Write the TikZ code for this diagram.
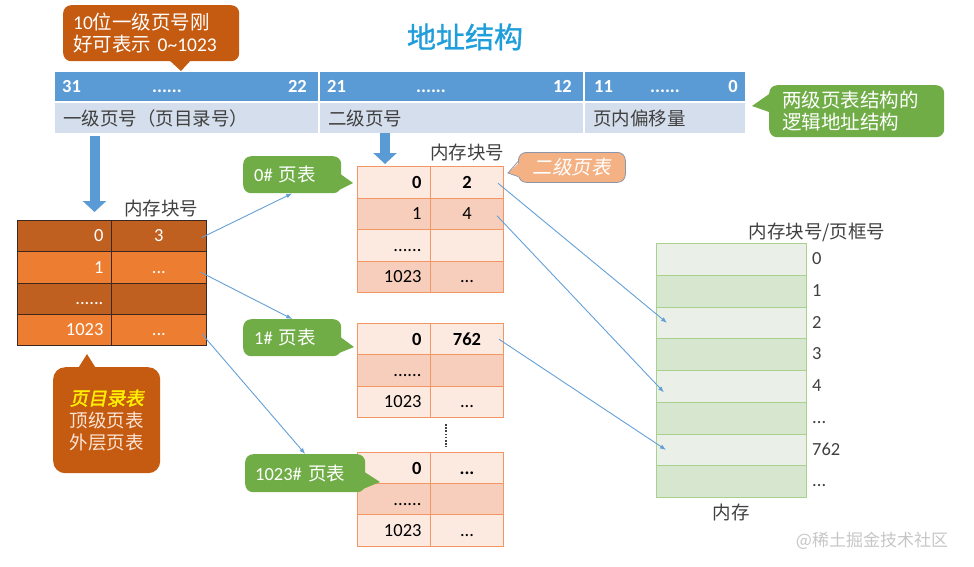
\documentclass[tikz,border=0pt]{standalone}
\usepackage{fontspec}
\setmainfont{Carlito}
\newfontfamily\cjk{Noto Sans CJK SC}
\newfontfamily\cjkb{Noto Sans CJK SC}[FakeBold=1.2]
\newfontfamily\cjkit{Noto Sans CJK SC}[FakeSlant=0.2]
\newfontfamily\cjkbi{Noto Sans CJK SC}[FakeSlant=0.2,FakeBold=2]
\usetikzlibrary{arrows.meta}
\definecolor{titleblue}{RGB}{32,158,220}
\definecolor{barblue}{RGB}{91,155,213}
\definecolor{barlight}{RGB}{213,222,236}
\definecolor{cbrown}{RGB}{197,90,17}
\definecolor{ltdark}{RGB}{192,96,32}
\definecolor{ltlight}{RGB}{237,125,49}
\definecolor{ltline}{RGB}{60,40,30}
\definecolor{cgreen}{RGB}{112,173,71}
\definecolor{pklight}{RGB}{252,233,224}
\definecolor{pkdark}{RGB}{246,206,187}
\definecolor{pkborder}{RGB}{242,150,100}
\definecolor{salmon}{RGB}{244,177,131}
\definecolor{salmonline}{RGB}{140,150,170}
\definecolor{mlight}{RGB}{234,240,231}
\definecolor{mdark}{RGB}{214,230,207}
\definecolor{mborder}{RGB}{169,209,142}
\definecolor{linkblue}{RGB}{100,160,215}
\definecolor{txtgray}{RGB}{64,64,64}
\definecolor{cream}{RGB}{251,229,214}
\definecolor{ylw}{RGB}{255,240,0}
\begin{document}
\begin{tikzpicture}[x=1pt,y=-1pt,
  fa/.style={font=\fontsize{18.5}{22}\selectfont},
  fb/.style={font=\fontsize{19.5}{22.5}\selectfont},
  lcella/.style={draw=ltline, line width=0.8pt, anchor=north west, inner ysep=0pt, inner xsep=8pt, text width=78pt, align=right, minimum height=31.25pt, text height=11.7pt, text depth=0pt, text=white, fa},
  lcellb/.style={lcella, inner xsep=0pt, text width=95pt, align=center},
  pcella/.style={draw=pkborder, line width=1pt, anchor=north west, inner ysep=0pt, inner xsep=9pt, text width=55pt, align=right, minimum height=31.5pt, text height=11.7pt, text depth=0pt, text=black, fa},
  pcellb/.style={pcella, inner xsep=0pt, text width=73pt, align=center},
  mcell/.style={draw=mborder, line width=1pt, anchor=north west, minimum width=150pt, minimum height=31.75pt, inner sep=0pt},
  mlab/.style={anchor=west, inner sep=0pt, text height=11.7pt, text depth=0pt, text=txtgray, fa},
  barA/.style={fill=barblue, anchor=north west, minimum height=29pt, inner sep=0pt},
  barB/.style={fill=barlight, anchor=north west, minimum height=30pt, inner xsep=8pt, inner ysep=0pt, align=left, text=txtgray, fa},
  bartxt/.style={inner sep=0pt, text height=12pt, text depth=0pt, text=white, font=\fontsize{18.5}{21}\selectfont\bfseries},
  callout/.style={rounded corners=8pt, inner ysep=0pt},
  hdr/.style={text=txtgray, font=\cjk\fontsize{18.5}{22}\selectfont, inner sep=0pt},
  link/.style={draw=linkblue, line width=0.9pt, -{Latex[length=6pt,width=4.5pt]}},
  bigarrow/.style={draw=barblue, line width=10pt, -{Triangle[width=23pt,length=11pt]}}
]
\useasboundingbox (0,0) rectangle (974,566);

% title
\node[text=titleblue, font=\fontsize{29}{34}\selectfont] (ttl) at (465,37) {\cjkb 地址结构};

% top-left callout
\node[callout, fill=cbrown, anchor=north west, text width=156pt, inner xsep=10pt, minimum height=56pt, align=left, text=white, fb] (n10) at (63,5) {10{\cjk 位一级页号刚}\\{\cjk 好可表示} 0\textasciitilde1023};
\fill[cbrown] (168,59) -- (192,59) -- (181,71) -- cycle;

% address bar
\node[barA, minimum width=263pt] (aa1) at (55,72) {};
\node[barA, minimum width=263pt] (aa2) at (320,72) {};
\node[barA, minimum width=160pt] (aa3) at (585,72) {};
\node[bartxt, anchor=west] (b31) at (62,86.5) {31};
\node[bartxt] (bd1) at (167,86.5) {......};
\node[bartxt, anchor=east] (b22) at (307,86.5) {22};
\node[bartxt, anchor=west] (b21) at (327,86.5) {21};
\node[bartxt] (bd2) at (431,86.5) {......};
\node[bartxt, anchor=east] (b12) at (572,86.5) {12};
\node[bartxt, anchor=west] (b11) at (594,86.5) {11};
\node[bartxt] (bd3) at (665,86.5) {......};
\node[bartxt, anchor=east] (b0) at (738,86.5) {0};
\node[barB, text width=247pt] (ab1) at (55,103) {\cjk 一级页号（页目录号）};
\node[barB, text width=247pt] (ab2) at (320,103) {\cjk 二级页号};
\node[barB, text width=144pt] (ab3) at (585,103) {\cjk 页内偏移量};

% top-right callout
\node[callout, fill=cgreen, anchor=north west, text width=149pt, inner xsep=13pt, minimum height=52pt, align=left, text=white, fb] (nlogic) at (769,85) {\cjk 两级页表结构的\\逻辑地址结构};
\fill[cgreen] (772,92) -- (772,113) -- (752,106) -- cycle;

% big arrows
\coordinate (bigLs) at (94.5,136);
\coordinate (bigL) at (94.5,212);
\draw[bigarrow] (bigLs) -- (bigL);
\coordinate (bigRs) at (385,133);
\coordinate (bigR) at (385,164);
\draw[bigarrow] (bigRs) -- (bigR);

% left table (page directory)
\node[hdr] (hL) at (161,208) {内存块号};
\foreach \i/\a/\b/\c in {0/0/3/ltdark,1/1/{...}/ltlight,2/{......}/{}/ltdark,3/1023/{...}/ltlight}{
  \node[lcella, fill=\c] (La\i) at (17,{220+\i*31.25}) {\a};
  \node[lcellb, fill=\c] (Lb\i) at (111,{220+\i*31.25}) {\b};
}

% bottom-left callout
\node[callout, rounded corners=12pt, fill=cbrown, anchor=north west, text width=91pt, inner xsep=8pt, minimum height=106pt, align=center, fa] (ndir) at (53,367) {{\cjkbi\color{ylw}页目录表}\\{\cjk\color{cream}顶级页表}\\{\cjk\color{cream}外层页表}};
\fill[cbrown] (77,370) -- (87,354) -- (97,370) -- cycle;

% page table 0
\node[hdr] (hP) at (467,152) {内存块号};
\foreach \i/\a/\b/\c in {0/{\bfseries 0}/{\bfseries 2}/pklight,1/1/4/pkdark,2/{......}/{}/pklight,3/1023/{...}/pkdark}{
  \node[pcella, fill=\c] (Pa\i) at (357,{166+\i*31.5}) {\a};
  \node[pcellb, fill=\c] (Pb\i) at (430,{166+\i*31.5}) {\b};
}
% page table 1
\foreach \i/\a/\b/\c in {0/{\bfseries 0}/{\bfseries 762}/pklight,1/{......}/{}/pkdark,2/1023/{...}/pklight}{
  \node[pcella, fill=\c] (Qa\i) at (357,{323+\i*31.33}) {\a};
  \node[pcellb, fill=\c] (Qb\i) at (430,{323+\i*31.33}) {\b};
}
% page table 1023
\foreach \i/\a/\b/\c in {0/{\bfseries 0}/{\bfseries ...}/pklight,1/{......}/{}/pkdark,2/1023/{...}/pklight}{
  \node[pcella, fill=\c] (Ra\i) at (357,{452+\i*31}) {\a};
  \node[pcellb, fill=\c] (Rb\i) at (430,{452+\i*31}) {\b};
}
\coordinate (dotA) at (446,424);
\coordinate (dotB) at (446,447);
\draw[txtgray, line width=1.6pt, dash pattern=on 1.6pt off 1.6pt] (dotA) -- (dotB);

% second-level callouts
\node[callout, fill=cgreen, anchor=north west, text width=76pt, inner xsep=11pt, minimum height=37pt, align=left, text=white, fa] (c0) at (243,156) {0\# {\cjk 页表}};
\fill[cgreen] (339,173) -- (339,190) -- (353,183) -- cycle;
\node[callout, fill=cgreen, anchor=north west, text width=76pt, inner xsep=11pt, minimum height=37pt, align=left, text=white, fa] (c1) at (243,319) {1\# {\cjk 页表}};
\fill[cgreen] (339,336) -- (339,353) -- (354,347) -- cycle;
\node[callout, fill=cgreen, anchor=north west, text width=100pt, inner xsep=10pt, minimum height=38pt, align=left, text=white, fa] (c1023) at (245,454) {1023\# {\cjk 页表}};
\fill[cgreen] (363,471) -- (363,489) -- (380,482) -- cycle;

\node[callout, fill=salmon, draw=salmonline, line width=0.8pt, anchor=north west, minimum width=107pt, minimum height=30pt, text=white, fb] (c2) at (518,152) {\cjkit 二级页表};
\fill[salmon] (521,161) -- (508,173) -- (521,177) -- cycle;
\draw[salmonline, line width=0.8pt] (518,161.5) -- (508,173) -- (518,176.5);

% memory
\node[hdr] (hM) at (817,232) {内存块号/页框号};
\foreach \i/\c/\l in {0/mlight/0,1/mdark/1,2/mlight/2,3/mdark/3,4/mlight/4,5/mdark/{...},6/mlight/762,7/mdark/{...}}{
  \node[mcell, fill=\c] (M\i) at (656,{243+\i*31.75}) {};
  \node[mlab] (N\i) at (812,{243+\i*31.75+15.875}) {\l};
}
\node[hdr] (hMem) at (731,512) {内存};

% links
\draw[link] ([xshift=-5pt,yshift=-1.5pt]Lb0.east) -- (c0.south);
\draw[link] ([xshift=-6pt,yshift=-5pt]Lb1.east) -- (c1.north);
\draw[link] ([xshift=-5pt,yshift=-4pt]Lb3.east) -- (c1023.north);
\draw[link] ([xshift=-6pt,yshift=-1pt]Pb0.east) -- ([xshift=11pt]M2.west);
\draw[link] ([xshift=-7pt,yshift=-2pt]Pb1.east) -- ([xshift=8pt,yshift=-6pt]M4.west);
\draw[link] ([xshift=-5pt]Qb0.east) -- ([xshift=10pt]M6.west);

% watermark
\node[text=gray!45, font=\cjk\fontsize{17}{20}\selectfont] (wm) at (872,541) {@稀土掘金技术社区};
\end{tikzpicture}
\end{document}
